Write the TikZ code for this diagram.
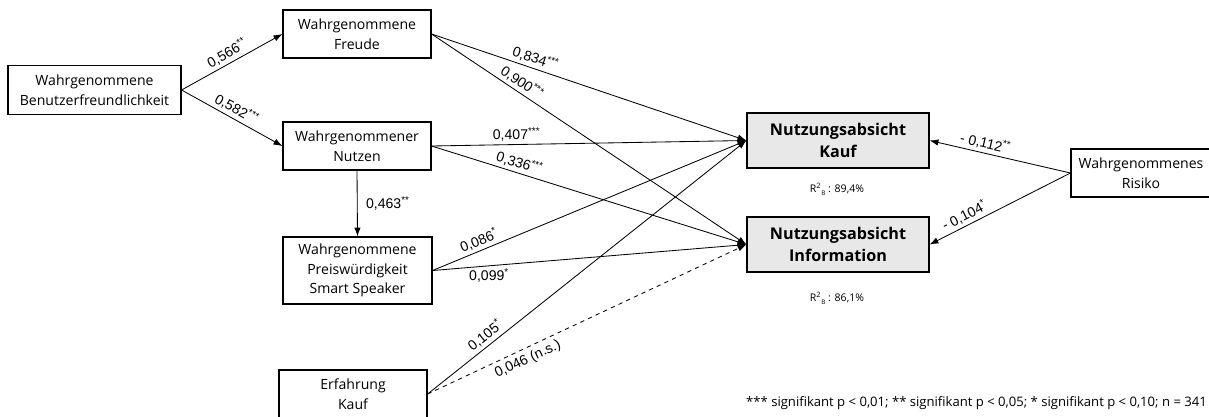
\documentclass[tikz,border=0pt]{standalone}
\usepackage{fontspec}
\setmainfont{Open Sans}
\newfontfamily\numfont{Liberation Sans}
\usetikzlibrary{arrows.meta}

\begin{document}
\begin{tikzpicture}[x=0.025cm, y=-0.025cm,
    box/.style={draw, thick, align=center, inner sep=0pt, font=\fontsize{10}{14}\selectfont},
    target/.style={box, fill=gray!18, font=\fontsize{11.5}{16}\selectfont\bfseries},
    pfeil/.style={line width=0.6pt, -{Latex[length=2.2mm, width=1.6mm]}},
    coef/.style={font=\numfont\fontsize{10}{11}\selectfont, inner sep=2pt},
    rsq/.style={font=\fontsize{7.5}{9}\selectfont}]
    \useasboundingbox (0,0) rectangle (1209,416);
    % Konstrukte
    \node[box, minimum width=4.325cm, minimum height=1.225cm] (bf) at (94.5,90) {Wahrgenommene\\Benutzerfreundlichkeit};
    \node[box, minimum width=3.7cm, minimum height=1.2cm] (fr) at (357,34) {Wahrgenommene\\Freude};
    \node[box, minimum width=3.7cm, minimum height=1.2cm] (nu) at (357,146) {Wahrgenommener\\Nutzen};
    \node[box, minimum width=3.725cm, minimum height=1.675cm] (pw) at (357.5,270.5) {Wahrgenommene\\Preiswürdigkeit\\Smart Speaker};
    \node[box, minimum width=3.7cm, minimum height=1.2cm] (ek) at (353,394) {Erfahrung\\Kauf};
    \node[target, minimum width=4.55cm, minimum height=1.375cm] (nk) at (838,140.5) {Nutzungsabsicht\\Kauf};
    \node[target, minimum width=4.55cm, minimum height=1.375cm] (ni) at (838,244.5) {Nutzungsabsicht\\Information};
    \node[box, minimum width=3.5cm, minimum height=1.2cm] (ri) at (1141,173) {Wahrgenommenes\\Risiko};
    % Bestimmtheitsmasse
    \node[rsq] (r1) at (837,189) {R\textsuperscript{2}\raisebox{-0.5ex}{\scalebox{0.6}{B}} : 89,4\%};
    \node[rsq] (r2) at (837,298) {R\textsuperscript{2}\raisebox{-0.5ex}{\scalebox{0.6}{B}} : 86,1\%};
    % Pfade
    \draw[pfeil] (bf.east) -- node[coef, sloped, above, pos=0.5] {0,566\textsuperscript{**}} (fr.west);
    \draw[pfeil] (bf.east) -- node[coef, sloped, above, pos=0.5] {0,582\textsuperscript{***}} (nu.west);
    \draw[pfeil] (fr.east) -- node[coef, sloped, above, pos=0.32] {0,834\textsuperscript{***}} (nk.west);
    \draw[pfeil] (fr.east) -- node[coef, sloped, above, pos=0.27] {0,900\textsuperscript{***}} (ni.west);
    \draw[pfeil] (nu.east) -- node[coef, above, pos=0.27] {0,407\textsuperscript{***}} (nk.west);
    \draw[pfeil] (nu.east) -- node[coef, sloped, above, pos=0.27] {0,336\textsuperscript{***}} (ni.west);
    \draw[pfeil] (nu.south) -- node[coef, right=4pt, pos=0.5] {0,463\textsuperscript{**}} (pw.north);
    \draw[pfeil] (pw.east) -- node[coef, sloped, above, pos=0.16] {0,086\textsuperscript{*}} (nk.west);
    \draw[pfeil] (pw.east) -- node[coef, below, pos=0.18] {0,099\textsuperscript{*}} (ni.west);
    \draw[pfeil] (ek.east) -- node[coef, sloped, above, pos=0.2] {0,105\textsuperscript{*}} (nk.west);
    \draw[pfeil, dashed] (ek.east) -- node[coef, sloped, below=1pt, pos=0.3] {0,046 (n.s.)} (ni.west);
    \draw[pfeil] (ri.west) -- node[coef, sloped, above, pos=0.62] {- 0,112\textsuperscript{**}} (nk.east);
    \draw[pfeil] (ri.west) -- node[coef, sloped, above, pos=0.72] {- 0,104\textsuperscript{*}} (ni.east);
    % Legende
    \node[anchor=east, font=\fontsize{9.3}{11}\selectfont, inner sep=0pt] (leg) at (1207,403) {*** signifikant p < 0,01; ** signifikant p < 0,05; * signifikant p < 0,10; n = 341};
\end{tikzpicture}
\end{document}
